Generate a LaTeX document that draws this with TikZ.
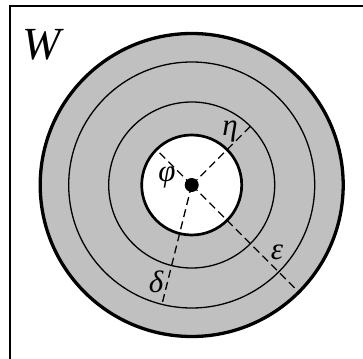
\documentclass[tikz,border=0pt]{standalone}
\usepackage{fontspec}
\setmainfont{Liberation Serif}
\usetikzlibrary{calc}
\definecolor{ringgray}{RGB}{192,192,192}

\begin{document}
\begin{tikzpicture}[x=1pt, y=1pt, every node/.style={font=\itshape\fontsize{31}{31}\selectfont},
  ring/.style={circle, draw, inner sep=0pt, outer sep=0pt},
  cut/.style={line width=1.3pt, dash pattern=on 8pt off 4.5pt}]
  \useasboundingbox (-191.7,-173) rectangle (171.3,185);
  \draw[line width=1.5pt] (-181.7,-180) |- (180,179);
  \node[font=\itshape\fontsize{46}{46}\selectfont] (w) at (-150.5,140) {W};
  % rings
  \node[ring, fill=ringgray, line width=3.3pt, minimum size=303pt] (wall) at (0,0) {};
  \node[ring, line width=1.3pt, minimum size=246pt] (mid) at (0,0) {};
  \node[ring, line width=1.3pt, minimum size=166pt] (near) at (0,0) {};
  \node[ring, fill=white, line width=2.7pt, minimum size=100pt] (core) at (0,0) {};
  \node[circle, fill=black, inner sep=0pt, minimum size=14pt] (dot) at (0,0) {};
  % radii
  \draw[cut] (dot.center) -- (near.45);
  \draw[cut] (dot.center) -- (core.135);
  \draw[cut] (dot.center) -- (wall.-45);
  \draw[cut] (dot.center) -- (mid.256);
  \node (eta) at (38.3,53) {η};
  \node (phi) at (-24.7,8) {φ};
  \node (eps) at (85.3,-67) {ε};
  \node (del) at (-35.7,-97) {δ};
\end{tikzpicture}
\end{document}
